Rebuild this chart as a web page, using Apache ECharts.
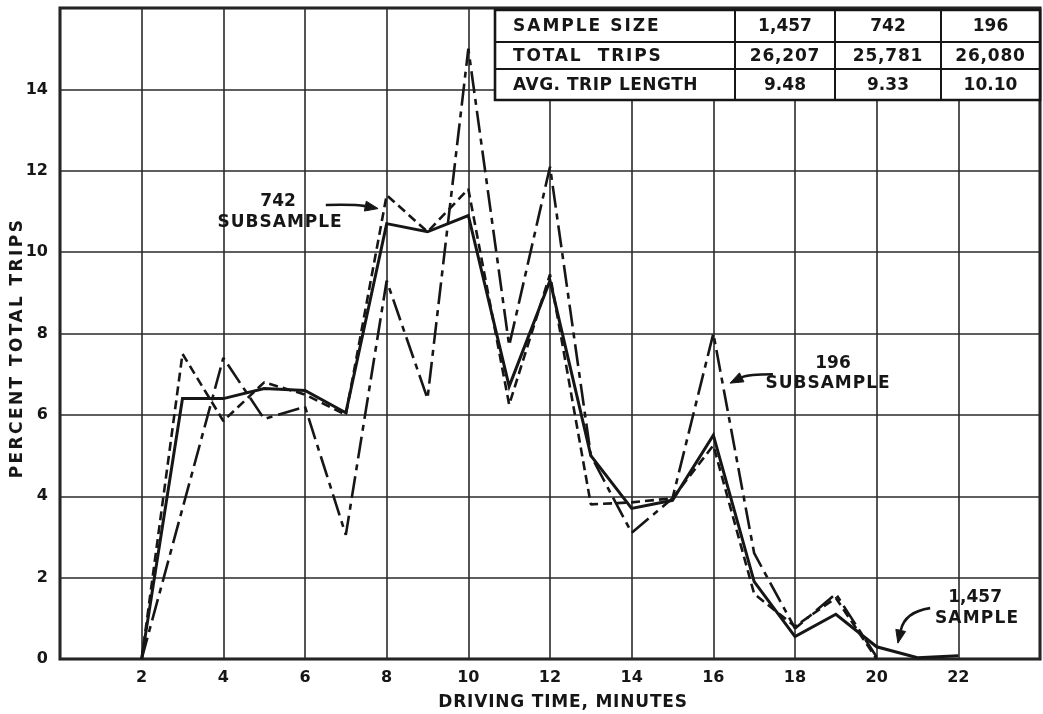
<!DOCTYPE html>
<html>
<head>
<meta charset="utf-8">
<title>Driving time distribution</title>
<script src="https://cdn.jsdelivr.net/npm/echarts@6/dist/echarts.min.js"></script>
<style>
  html, body { margin: 0; padding: 0; background: #ffffff; }
  #chart { width: 1043px; height: 714px; }
</style>
</head>
<body>
<div id="chart"></div>
<script>
// Driving time (minutes) and percent of total trips for each sample
const times = [2, 3, 4, 5, 6, 7, 8, 9, 10, 11, 12, 13, 14, 15, 16, 17, 18, 19, 20, 21, 22];
const sample1457 = [0, 6.4, 6.4, 6.65, 6.6, 6.05, 10.7, 10.5, 10.9, 6.7, 9.3, 5.0, 3.7, 3.9, 5.5, 1.9, 0.55, 1.1, 0.3, 0.03, 0.08];
const sub742 = [0, 7.5, 5.85, 6.8, 6.5, 6.0, 11.4, 10.5, 11.55, 6.25, 9.45, 3.8, 3.85, 3.95, 5.25, 1.6, 0.8, 1.5, 0.0];
const sub196 = [0, 3.7, 7.4, 5.9, 6.2, 3.05, 9.3, 6.4, 15.0, 7.7, 12.1, 5.0, 3.1, 3.95, 8.0, 2.6, 0.75, 1.6, 0.05];

// Axis ticks
const xTicks = [2, 4, 6, 8, 10, 12, 14, 16, 18, 20, 22];
const yTicks = [0, 2, 4, 6, 8, 10, 12, 14];

// Summary table
const tableRowLabels = ['SAMPLE SIZE', 'TOTAL  TRIPS', 'AVG. TRIP LENGTH'];
const tableCol1457 = ['1,457', '26,207', '9.48'];
const tableCol742 = ['742', '25,781', '9.33'];
const tableCol196 = ['196', '26,080', '10.10'];

// Callout labels: text lines and arrows, placed in data units
const calloutText = [
  { text: '742', at: [5.34, 11.24] },
  { text: 'SUBSAMPLE', at: [5.39, 10.72] },
  { text: '196', at: [18.93, 7.25] },
  { text: 'SUBSAMPLE', at: [18.81, 6.76] },
  { text: '1,457', at: [22.41, 1.52] },
  { text: 'SAMPLE', at: [22.46, 1.0] }
];
const calloutArrows = [
  { tail: [6.51, 11.16], ctrl: [7.22, 11.18], tip: [7.79, 11.07] },
  { tail: [17.46, 7.0], ctrl: [16.85, 7.0], tip: [16.41, 6.78] },
  { tail: [21.31, 1.25], ctrl: [20.69, 1.16], tip: [20.52, 0.39] }
];

const FONT = 'DejaVu Sans';
const INK = '#161616';

// Hand-lettered captions are drawn with wider letter spacing
const LETTER_SPACING = {
  'PERCENT TOTAL TRIPS': '2.4px',
  'DRIVING TIME, MINUTES': '0.8px',
  'SAMPLE SIZE': '2px',
  'TOTAL  TRIPS': '1.8px',
  'AVG. TRIP LENGTH': '0.5px',
  '26,207': '0.8px',
  '25,781': '0.8px',
  '26,080': '0.8px',
  'SUBSAMPLE': '1px',
  'SAMPLE': '1.2px'
};
(function () {
  const proto = CanvasRenderingContext2D.prototype;
  if (!('letterSpacing' in proto)) return;
  const fill = proto.fillText;
  proto.fillText = function (t, x, y, w) {
    const ls = LETTER_SPACING[t] || '0px';
    if (this.letterSpacing !== ls) {
      const f = this.font;
      this.letterSpacing = ls;
      // re-resolve the font so the new spacing takes effect
      this.font = '10px serif';
      this.font = f;
    }
    return fill.apply(this, arguments);
  };
})();

function pairs(xs, ys) {
  return ys.map((v, i) => [xs[i], v]);
}

const chart = echarts.init(document.getElementById('chart'), null, { renderer: 'canvas' });

const lineBase = { type: 'line', symbol: 'none', smooth: false, animation: false, z: 3 };

chart.setOption({
  backgroundColor: '#ffffff',
  animation: false,
  grid: {
    left: 60, right: 3, top: 8, bottom: 55,
    show: true, borderColor: INK, borderWidth: 3, backgroundColor: 'transparent'
  },
  xAxis: {
    type: 'value', min: 0, max: 24, interval: 2,
    axisLine: { show: false },
    axisTick: { show: false },
    axisLabel: {
      margin: 11, color: INK, fontFamily: FONT, fontWeight: 'bold', fontSize: 16,
      formatter: v => (xTicks.indexOf(v) >= 0 ? String(v) : '')
    },
    splitLine: { show: true, lineStyle: { color: '#2a2a2a', width: 1.6 } }
  },
  yAxis: {
    type: 'value', min: 0, max: 16, interval: 2,
    axisLine: { show: false },
    axisTick: { show: false },
    axisLabel: {
      margin: 12, color: INK, fontFamily: FONT, fontWeight: 'bold', fontSize: 16,
      formatter: v => (yTicks.indexOf(v) >= 0 ? String(v) : '')
    },
    splitLine: { show: true, lineStyle: { color: '#2a2a2a', width: 1.6 } }
  },
  series: [
    Object.assign({}, lineBase, {
      name: '1,457 SAMPLE',
      data: pairs(times, sample1457),
      lineStyle: { color: INK, width: 3, type: 'solid', join: 'miter' }
    }),
    Object.assign({}, lineBase, {
      name: '742 SUBSAMPLE',
      data: pairs(times, sub742),
      lineStyle: { color: INK, width: 2.6, type: [9, 5] }
    }),
    Object.assign({}, lineBase, {
      name: '196 SUBSAMPLE',
      data: pairs(times, sub196),
      lineStyle: { color: INK, width: 2.6, type: [22, 6, 6, 6] }
    })
  ]
});

// Pixel helpers based on the grid's own scales
function px(p) {
  return chart.convertToPixel({ gridIndex: 0 }, p);
}

function buildGraphics() {
  const els = [];

  // Axis titles
  const origin = px([0, 0]);
  const corner = px([24, 16]);
  els.push({
    type: 'text', z: 10,
    x: origin[0] + 503, y: origin[1] + 44,
    style: {
      text: 'DRIVING TIME, MINUTES', fill: INK, font: 'bold 17px "' + FONT + '"',
      align: 'center', verticalAlign: 'middle'
    }
  });
  els.push({
    type: 'text', z: 10,
    x: 18, y: 348, rotation: Math.PI / 2,
    style: {
      text: 'PERCENT TOTAL TRIPS', fill: INK, font: 'bold 17px "' + FONT + '"',
      align: 'center', verticalAlign: 'middle'
    }
  });

  // Summary table in the upper right corner of the plot
  const tl = 495, tr = corner[0];
  const colX = [tl, 735, 835, 941, tr];
  const rowY = [corner[1] + 2, 42, 69, 100];
  els.push({
    type: 'rect', z: 6,
    shape: { x: tl, y: rowY[0], width: tr - tl, height: rowY[3] - rowY[0] },
    style: { fill: '#ffffff', stroke: INK, lineWidth: 2.6 }
  });
  for (let r = 1; r < 3; r++) {
    els.push({ type: 'line', z: 7, shape: { x1: tl, y1: rowY[r], x2: tr, y2: rowY[r] },
      style: { stroke: INK, lineWidth: 2 } });
  }
  for (let c = 1; c < 4; c++) {
    els.push({ type: 'line', z: 7, shape: { x1: colX[c], y1: rowY[0], x2: colX[c], y2: rowY[3] },
      style: { stroke: INK, lineWidth: 2 } });
  }
  const cols = [tableCol1457, tableCol742, tableCol196];
  for (let r = 0; r < 3; r++) {
    const cy = (rowY[r] + rowY[r + 1]) / 2 + 1;
    els.push({ type: 'text', z: 8, x: 513, y: cy,
      style: { text: tableRowLabels[r], fill: INK, font: 'bold 17px "' + FONT + '"',
        align: 'left', verticalAlign: 'middle' } });
    for (let c = 0; c < 3; c++) {
      els.push({ type: 'text', z: 8, x: (colX[c + 1] + colX[c + 2]) / 2, y: cy,
        style: { text: cols[c][r], fill: INK, font: 'bold 17px "' + FONT + '"',
          align: 'center', verticalAlign: 'middle' } });
    }
  }

  // Callout text
  calloutText.forEach(t => {
    const p = px(t.at);
    els.push({ type: 'text', z: 10, x: p[0], y: p[1],
      style: { text: t.text, fill: INK, font: 'bold 17px "' + FONT + '"',
        align: 'center', verticalAlign: 'middle' } });
  });

  // Callout arrows: curved shaft plus a filled head
  calloutArrows.forEach(a => {
    const t = px(a.tail), c = px(a.ctrl), h = px(a.tip);
    const dx = h[0] - c[0], dy = h[1] - c[1];
    const len = Math.hypot(dx, dy) || 1;
    const ux = dx / len, uy = dy / len;
    const headLen = 13, headW = 5;
    const bx = h[0] - ux * headLen, by = h[1] - uy * headLen;
    els.push({ type: 'bezierCurve', z: 10,
      shape: { x1: t[0], y1: t[1], x2: bx, y2: by, cpx1: c[0], cpy1: c[1] },
      style: { stroke: INK, lineWidth: 2.6, fill: null } });
    els.push({ type: 'polygon', z: 10,
      shape: { points: [[h[0], h[1]], [bx - uy * headW, by + ux * headW], [bx + uy * headW, by - ux * headW]] },
      style: { fill: INK, stroke: INK, lineWidth: 1 } });
  });

  return els;
}

chart.setOption({ graphic: { elements: buildGraphics() } });
</script>
</body>
</html>
